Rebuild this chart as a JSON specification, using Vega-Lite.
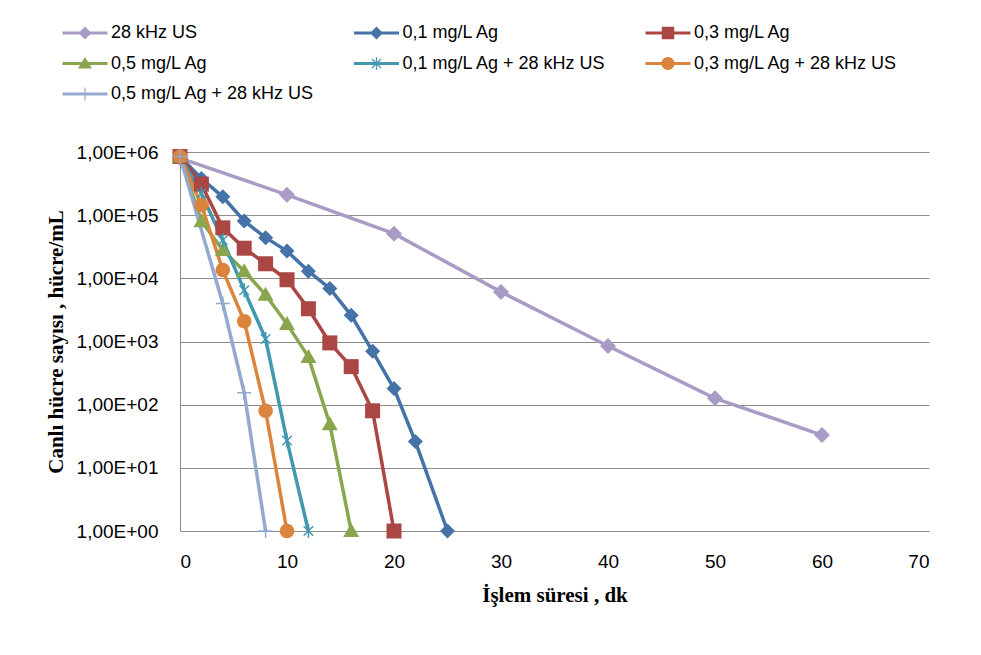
{
  "$schema": "https://vega.github.io/schema/vega-lite/v6.json",
  "width": 749,
  "height": 379,
  "autosize": "none",
  "padding": {"left": 180, "top": 152, "right": 52, "bottom": 124},
  "background": "white",
  "config": {
    "view": {"stroke": null},
    "font": "Liberation Sans"
  },
  "data": {
    "values": [
      {"t": 0, "n": 800000, "s": "28 kHz US"},
      {"t": 10, "n": 210000, "s": "28 kHz US"},
      {"t": 20, "n": 51000, "s": "28 kHz US"},
      {"t": 30, "n": 6100, "s": "28 kHz US"},
      {"t": 40, "n": 850, "s": "28 kHz US"},
      {"t": 50, "n": 126, "s": "28 kHz US"},
      {"t": 60, "n": 33, "s": "28 kHz US"},
      {"t": 0, "n": 850000, "s": "0,1 mg/L Ag"},
      {"t": 2, "n": 380000, "s": "0,1 mg/L Ag"},
      {"t": 4, "n": 195000, "s": "0,1 mg/L Ag"},
      {"t": 6, "n": 81000, "s": "0,1 mg/L Ag"},
      {"t": 8, "n": 44000, "s": "0,1 mg/L Ag"},
      {"t": 10, "n": 27000, "s": "0,1 mg/L Ag"},
      {"t": 12, "n": 13000, "s": "0,1 mg/L Ag"},
      {"t": 14, "n": 6900, "s": "0,1 mg/L Ag"},
      {"t": 16, "n": 2600, "s": "0,1 mg/L Ag"},
      {"t": 18, "n": 700, "s": "0,1 mg/L Ag"},
      {"t": 20, "n": 180, "s": "0,1 mg/L Ag"},
      {"t": 22, "n": 26, "s": "0,1 mg/L Ag"},
      {"t": 25, "n": 1, "s": "0,1 mg/L Ag"},
      {"t": 0, "n": 850000, "s": "0,3 mg/L Ag"},
      {"t": 2, "n": 310000, "s": "0,3 mg/L Ag"},
      {"t": 4, "n": 63000, "s": "0,3 mg/L Ag"},
      {"t": 6, "n": 30000, "s": "0,3 mg/L Ag"},
      {"t": 8, "n": 17000, "s": "0,3 mg/L Ag"},
      {"t": 10, "n": 9500, "s": "0,3 mg/L Ag"},
      {"t": 12, "n": 3300, "s": "0,3 mg/L Ag"},
      {"t": 14, "n": 950, "s": "0,3 mg/L Ag"},
      {"t": 16, "n": 400, "s": "0,3 mg/L Ag"},
      {"t": 18, "n": 80, "s": "0,3 mg/L Ag"},
      {"t": 20, "n": 1, "s": "0,3 mg/L Ag"},
      {"t": 0, "n": 850000, "s": "0,5 mg/L Ag"},
      {"t": 2, "n": 80000, "s": "0,5 mg/L Ag"},
      {"t": 4, "n": 28000, "s": "0,5 mg/L Ag"},
      {"t": 6, "n": 13000, "s": "0,5 mg/L Ag"},
      {"t": 8, "n": 5500, "s": "0,5 mg/L Ag"},
      {"t": 10, "n": 1900, "s": "0,5 mg/L Ag"},
      {"t": 12, "n": 570, "s": "0,5 mg/L Ag"},
      {"t": 14, "n": 49, "s": "0,5 mg/L Ag"},
      {"t": 16, "n": 1, "s": "0,5 mg/L Ag"},
      {"t": 0, "n": 850000, "s": "0,1 mg/L Ag + 28 kHz US"},
      {"t": 2, "n": 220000, "s": "0,1 mg/L Ag + 28 kHz US"},
      {"t": 4, "n": 40000, "s": "0,1 mg/L Ag + 28 kHz US"},
      {"t": 6, "n": 6500, "s": "0,1 mg/L Ag + 28 kHz US"},
      {"t": 8, "n": 1100, "s": "0,1 mg/L Ag + 28 kHz US"},
      {"t": 10, "n": 27, "s": "0,1 mg/L Ag + 28 kHz US"},
      {"t": 12, "n": 1, "s": "0,1 mg/L Ag + 28 kHz US"},
      {"t": 0, "n": 850000, "s": "0,3 mg/L Ag + 28 kHz US"},
      {"t": 2, "n": 145000, "s": "0,3 mg/L Ag + 28 kHz US"},
      {"t": 4, "n": 13500, "s": "0,3 mg/L Ag + 28 kHz US"},
      {"t": 6, "n": 2100, "s": "0,3 mg/L Ag + 28 kHz US"},
      {"t": 8, "n": 80, "s": "0,3 mg/L Ag + 28 kHz US"},
      {"t": 10, "n": 1, "s": "0,3 mg/L Ag + 28 kHz US"},
      {"t": 0, "n": 850000, "s": "0,5 mg/L Ag + 28 kHz US"},
      {"t": 4, "n": 4000, "s": "0,5 mg/L Ag + 28 kHz US"},
      {"t": 6, "n": 155, "s": "0,5 mg/L Ag + 28 kHz US"},
      {"t": 8, "n": 1, "s": "0,5 mg/L Ag + 28 kHz US"}
    ]
  },
  "encoding": {
    "x": {
      "field": "t", "type": "quantitative",
      "scale": {"domain": [0, 70], "nice": false},
      "axis": {
        "values": [0, 10, 20, 30, 40, 50, 60, 70],
        "title": "İşlem süresi , dk",
        "grid": false, "ticks": false,
        "domainColor": "#8c8c8c", "domainWidth": 1,
        "labelFont": "Liberation Sans", "labelFontSize": 19, "labelColor": "#000000",
        "labelPadding": 21,
        "titleFont": "Liberation Serif", "titleFontSize": 21, "titleFontWeight": "bold",
        "titleColor": "#000000", "titlePadding": 13
      }
    },
    "y": {
      "field": "n", "type": "quantitative",
      "scale": {"type": "log", "domain": [1, 1000000], "nice": false},
      "axis": {
        "values": [1, 10, 100, 1000, 10000, 100000, 1000000],
        "labelExpr": "'1,00E+0' + round(log(datum.value) / LN10)",
        "title": "Canlı hücre sayısı , hücre/mL",
        "grid": true, "gridColor": "#8c8c8c", "gridWidth": 1,
        "ticks": false,
        "domainColor": "#8c8c8c", "domainWidth": 1,
        "labelFont": "Liberation Sans", "labelFontSize": 19, "labelColor": "#000000",
        "labelPadding": 22,
        "titleFont": "Liberation Serif", "titleFontSize": 21, "titleFontWeight": "bold",
        "titleColor": "#000000", "titlePadding": 10
      }
    },
    "color": {
      "field": "s", "type": "nominal",
      "scale": {
        "domain": ["28 kHz US", "0,1 mg/L Ag", "0,3 mg/L Ag", "0,5 mg/L Ag", "0,1 mg/L Ag + 28 kHz US", "0,3 mg/L Ag + 28 kHz US", "0,5 mg/L Ag + 28 kHz US"],
        "range": ["#A99BC5", "#4572A7", "#AA4643", "#89A54E", "#4198AF", "#DB843D", "#93A9CF"]
      },
      "legend": {
        "title": null,
        "orient": "none",
        "legendX": -104,
        "legendY": -128,
        "direction": "horizontal",
        "columns": 3,
        "gridAlign": "all",
        "columnPadding": 38.5,
        "rowPadding": 12.5,
        "symbolSize": 100,
        "symbolStrokeWidth": 0,
        "labelFont": "Liberation Sans",
        "labelFontSize": 18,
        "labelColor": "#000000",
        "labelLimit": 400,
        "labelOffset": 17,
        "encode": {
          "symbols": {
            "update": {
              "fill": {"scale": "color", "field": "value"},
              "opacity": {"value": 1},
              "strokeWidth": {"value": 0},
              "shape": {
                "signal": "datum.value == '28 kHz US' ? 'M-4.5,-0.3H4.5V0.3H-4.5Z M-1.3,0L0,-1.3L1.3,0L0,1.3Z' : datum.value == '0,1 mg/L Ag' ? 'M-4.5,-0.3H4.5V0.3H-4.5Z M-1.3,0L0,-1.3L1.3,0L0,1.3Z' : datum.value == '0,3 mg/L Ag' ? 'M-4.5,-0.3H4.5V0.3H-4.5Z M-1.25,-1.25H1.25V1.25H-1.25Z' : datum.value == '0,5 mg/L Ag' ? 'M-4.5,-0.3H4.5V0.3H-4.5Z M0,-1.3L1.4,1.0H-1.4Z' : datum.value == '0,1 mg/L Ag + 28 kHz US' ? 'M-4.5,-0.3H4.5V0.3H-4.5Z M-0.12,-1.3H0.12V1.3H-0.12Z M-0.8,-0.98L0.98,0.8L0.8,0.98L-0.98,-0.8Z M0.8,-0.98L0.98,-0.8L-0.8,0.98L-0.98,0.8Z' : datum.value == '0,3 mg/L Ag + 28 kHz US' ? 'M-4.5,-0.3H4.5V0.3H-4.5Z M-1.3,0A1.3,1.3 0 1,1 1.3,0A1.3,1.3 0 1,1 -1.3,0Z' : 'M-4.5,-0.3H4.5V0.3H-4.5Z M-0.12,-1.3H0.12V1.3H-0.12Z'"
              }
            }
          }
        }
      }
    }
  },
  "layer": [
    {
      "mark": {"type": "line", "strokeWidth": 3.5},
      "encoding": {"order": {"field": "t", "type": "quantitative"}}
    },
    {
      "transform": [{"filter": "datum.s == '28 kHz US'"}],
      "mark": {"type": "point", "filled": true, "opacity": 1, "size": 100, "strokeWidth": 0, "shape": "M-1.6,0L0,-1.6L1.6,0L0,1.6Z"}
    },
    {
      "transform": [{"filter": "datum.s == '0,1 mg/L Ag'"}],
      "mark": {"type": "point", "filled": true, "opacity": 1, "size": 100, "strokeWidth": 0, "shape": "M-1.5,0L0,-1.5L1.5,0L0,1.5Z"}
    },
    {
      "transform": [{"filter": "datum.s == '0,3 mg/L Ag'"}],
      "mark": {"type": "point", "filled": true, "opacity": 1, "size": 100, "strokeWidth": 0, "shape": "M-1.5,-1.5H1.5V1.5H-1.5Z"}
    },
    {
      "transform": [{"filter": "datum.s == '0,5 mg/L Ag'"}],
      "mark": {"type": "point", "filled": true, "opacity": 1, "size": 100, "strokeWidth": 0, "shape": "M0,-1.6L1.6,1.2H-1.6Z"}
    },
    {
      "transform": [{"filter": "datum.s == '0,1 mg/L Ag + 28 kHz US'"}],
      "mark": {"type": "point", "filled": true, "opacity": 1, "size": 100, "strokeWidth": 0, "shape": "M-0.15,-1.4H0.15V1.4H-0.15Z M-0.85,-1.05L1.05,0.85L0.85,1.05L-1.05,-0.85Z M0.85,-1.05L1.05,-0.85L-0.85,1.05L-1.05,0.85Z"}
    },
    {
      "transform": [{"filter": "datum.s == '0,3 mg/L Ag + 28 kHz US'"}],
      "mark": {"type": "point", "filled": true, "opacity": 1, "size": 100, "strokeWidth": 0, "shape": "M-1.45,0A1.45,1.45 0 1,1 1.45,0A1.45,1.45 0 1,1 -1.45,0Z"}
    },
    {
      "transform": [{"filter": "datum.s == '0,5 mg/L Ag + 28 kHz US'"}],
      "mark": {"type": "point", "filled": true, "opacity": 1, "size": 100, "strokeWidth": 0, "shape": "M-1.4,-0.15H-0.15V-1.4H0.15V-0.15H1.4V0.15H0.15V1.4H-0.15V0.15H-1.4Z"}
    }
  ]
}
